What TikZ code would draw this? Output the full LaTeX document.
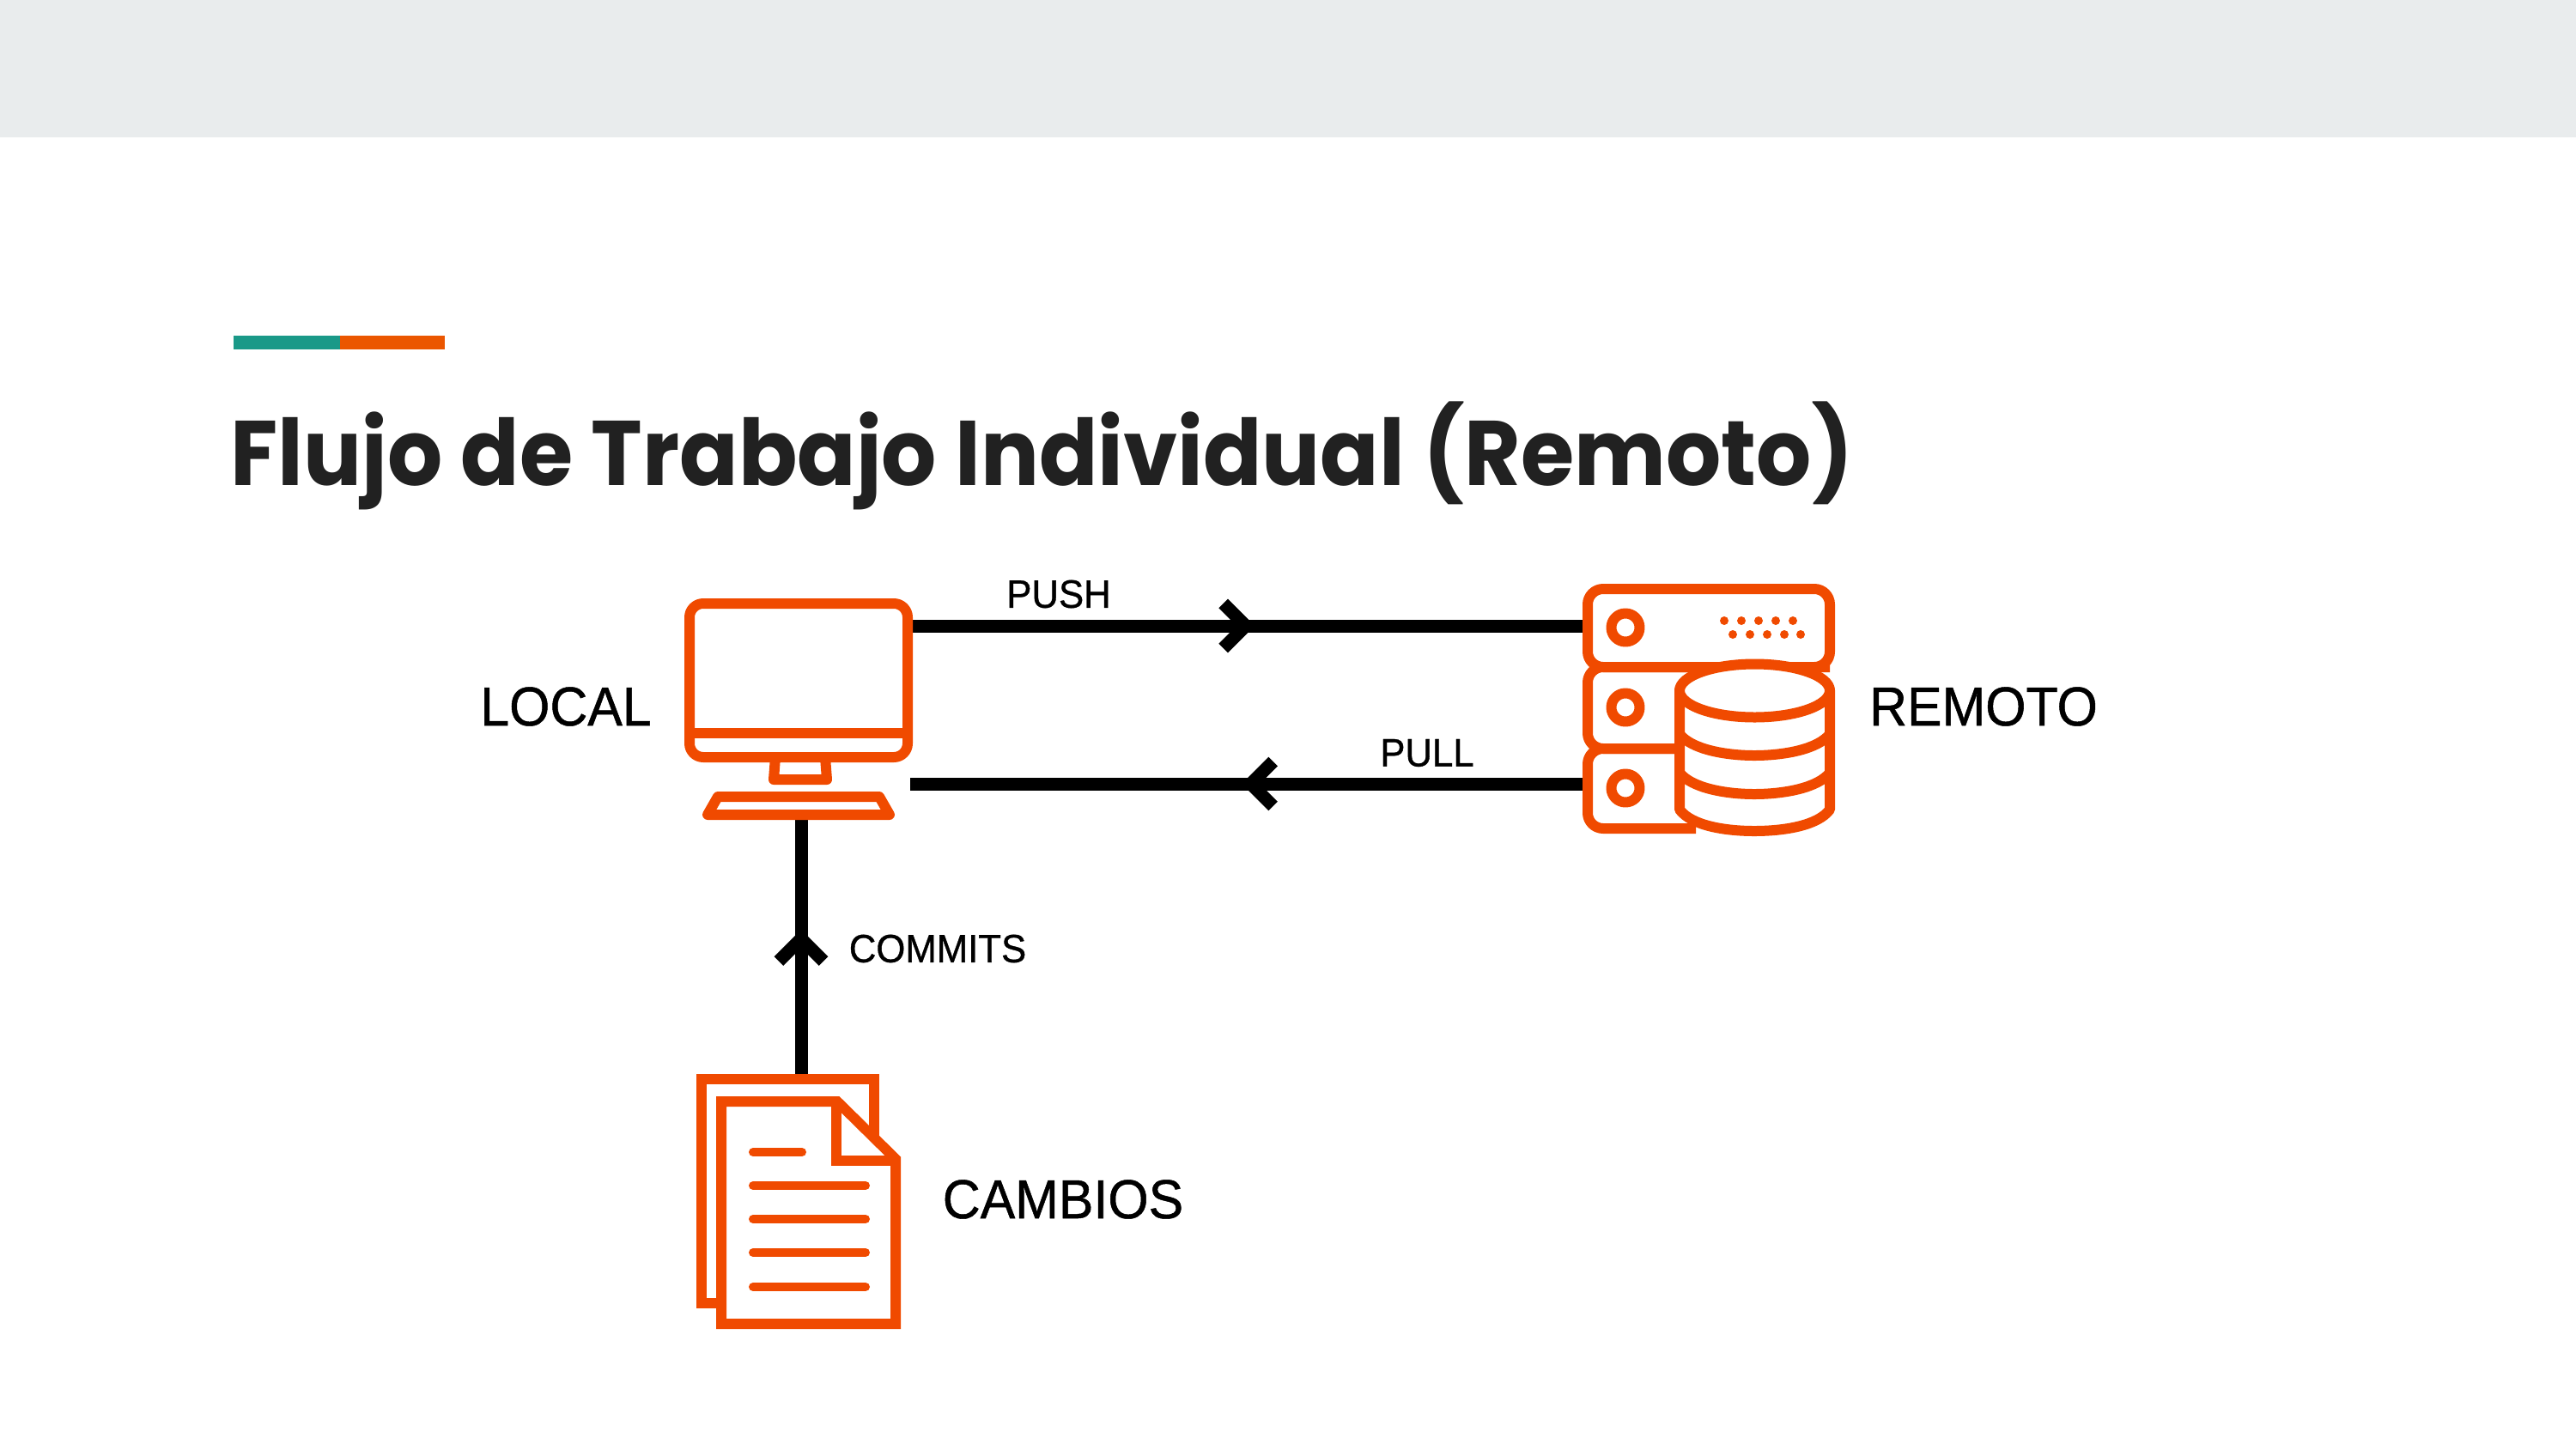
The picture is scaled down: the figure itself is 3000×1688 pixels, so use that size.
\documentclass[tikz,border=0pt]{standalone}
\usepackage{fontspec}
\usetikzlibrary{arrows.meta,decorations.markings}
\setmainfont[FakeStretch=0.95,FakeBold=0.8]{Liberation Sans}
\newfontfamily\titlefont[FakeStretch=0.943]{Poppins}
\definecolor{band}{HTML}{E9ECED}
\definecolor{teal}{HTML}{1A9988}
\definecolor{accent}{HTML}{EB5600}
\definecolor{iconor}{HTML}{F04A00}
\definecolor{ink}{HTML}{212121}
\tikzset{
 x=0.5pt,y=-0.5pt,
 ic/.style={draw=iconor,line width=6pt,line join=round,fill=white},
 icl/.style={draw=iconor,line width=5pt,line cap=round},
 dot/.style={fill=iconor,draw=none},
 flow/.style={draw=black,line width=7.5pt},
 midtip/.style={postaction={decorate},decoration={markings,mark=at position #1 with {\arrow[line width=7.5pt]{Straight Barb[length=13pt,width=26pt]}}}},
 lab/.style={inner sep=0pt,text=black,font=\fontsize{#1}{#1}\selectfont},
}
\begin{document}
\begin{tikzpicture}
\useasboundingbox (0,0) rectangle (3000,1688);
\fill[band] (0,0) rectangle (3000,160);
\fill[teal] (272,391) rectangle (396,407);
\fill[accent] (396,391) rectangle (518,407);
\node[inner sep=0pt,anchor=base west,text=ink] (title) at (268,565) {\titlefont\bfseries\fontsize{53.5}{53.5}\selectfont Flujo de Trabajo Individual (Remoto)};
% anchors of connectors
\coordinate (pushA) at (1062,729); \coordinate (pushB) at (1845,729);
\coordinate (pullA) at (1843,913); \coordinate (pullB) at (1060,913);
\coordinate (comA) at (933,1256); \coordinate (comB) at (933,955);
\draw[flow,midtip=0.51] (pushA) -- (pushB);
\draw[flow,midtip=0.507] (pullA) -- (pullB);
\draw[flow,midtip=0.575] (comA) -- (comB);
% monitor
\draw[ic,fill=none,rounded corners=8pt] (803,703) rectangle (1057,882);
\draw[draw=iconor,line width=6pt] (803,854) -- (1057,854);
\draw[ic,fill=none] (903,882) -- (901,908) -- (963,908) -- (961,882);
\draw[ic,fill=none] (836,928) -- (1024,928) -- (1036,949) -- (824,949) -- cycle;
% server
\draw[ic,fill=none,rounded corners=9pt] (1849,686) rectangle (2131,777);
\draw[ic,fill=none,rounded corners=9pt] (1951,872) -- (1849,872) -- (1849,777) -- (2131,777);
\draw[ic,fill=none,rounded corners=9pt] (1951,872) -- (1849,872) -- (1849,965) -- (1975,965);
\foreach \cy in {731,824,918} \draw[ic,fill=none] (1893,\cy) circle[radius=16.5];
\foreach \dx in {2008,2028,2048,2068,2088} \fill[dot] (\dx,723) circle[radius=5];
\foreach \dx in {2018,2038,2058,2078,2097} \fill[dot] (\dx,739) circle[radius=5];
% database
\draw[ic] (1956,804) -- (1956,943) .. controls (1970,962) and (2010,968) .. (2043,968) .. controls (2077,968) and (2117,962) .. (2131,943) -- (2131,804) -- cycle;
\draw[ic] (2043.5,804.5) ellipse[x radius=87.5,y radius=31];
\draw[ic,fill=none] (1956,855) .. controls (1970,873) and (2010,880) .. (2043,880) .. controls (2077,880) and (2117,873) .. (2131,855);
\draw[ic,fill=none] (1956,900) .. controls (1970,918) and (2010,925) .. (2043,925) .. controls (2077,925) and (2117,918) .. (2131,900);
% documents
\draw[ic,line join=miter] (817,1257) rectangle (1018,1518);
\draw[ic,line join=miter] (840,1283) -- (975,1283) -- (1043,1350) -- (1043,1542) -- (840,1542) -- cycle;
\draw[ic,line join=miter,fill=none] (974,1283) -- (974,1352) -- (1043,1352);
\draw[icl] (877,1342) -- (934,1342);
\foreach \ly in {1381,1420,1459,1499} \draw[icl] (877,\ly) -- (1008,\ly);
% labels
\node[lab=32] (local) at (659,823) {LOCAL};
\node[lab=32] (remoto) at (2310,823) {REMOTO};
\node[lab=32] (cambios) at (1238,1397) {CAMBIOS};
\node[lab=23] (push) at (1233,692) {PUSH};
\node[lab=23] (pull) at (1662,877) {PULL};
\node[lab=23] (commits) at (1092,1105) {COMMITS};
\end{tikzpicture}
\end{document}
